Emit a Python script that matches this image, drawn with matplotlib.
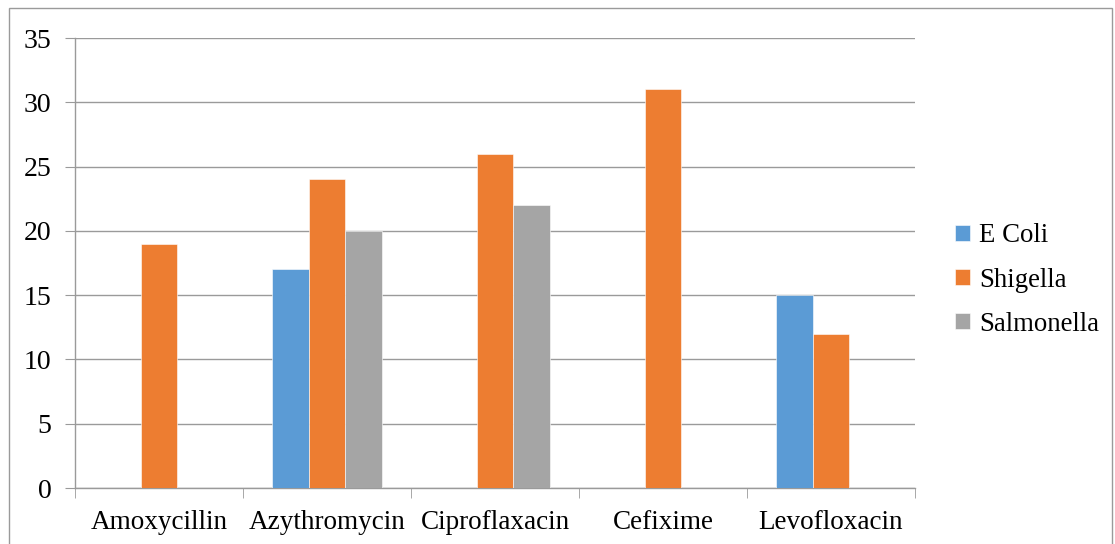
import numpy as np
import matplotlib
matplotlib.use("Agg")
import matplotlib.pyplot as plt
from matplotlib.patches import Rectangle

plt.rcParams['font.family'] = ['Liberation Serif', 'DejaVu Serif']

drugs = ["Amoxycillin", "Azythromycin", "Ciproflaxacin", "Cefixime", "Levofloxacin"]
e_coli = [0, 17, 0, 0, 15]
shigella = [19, 24, 26, 31, 12]
salmonella = [0, 20, 22, 0, 0]

series = [("E Coli", e_coli, "#5B9BD5"),
          ("Shigella", shigella, "#ED7D31"),
          ("Salmonella", salmonella, "#A5A5A5")]

fig = plt.figure(figsize=(11.15, 5.44), dpi=100)
ax = fig.add_axes([75 / 1115, 56 / 544, 840 / 1115, 450 / 544])

x = np.arange(len(drugs))
w = 0.22
for i, (name, vals, col) in enumerate(series):
    ax.bar(x + (i - 1) * w, vals, w, color=col, label=name,
           edgecolor="white", linewidth=0.4, zorder=3)

ax.set_xlim(-0.5, len(drugs) - 0.5)
ax.set_ylim(0, 35)
ax.set_yticks(range(0, 36, 5))
ax.set_xticks(x)
ax.set_xticklabels(drugs)
ax.set_xticks(np.arange(-0.5, len(drugs), 1), minor=True)

ax.grid(axis="y", color="#9a9a9a", linewidth=1, zorder=0)
for s in ["top", "right"]:
    ax.spines[s].set_visible(False)
for s in ["left", "bottom"]:
    ax.spines[s].set_color("#9a9a9a")
    ax.spines[s].set_linewidth(1)

ax.tick_params(axis="y", length=7, color="#9a9a9a", labelsize=20, pad=10)
ax.tick_params(axis="x", which="major", length=0, labelsize=19.5, pad=16)
ax.tick_params(axis="x", which="minor", length=7, color="#9a9a9a")

ax.legend(loc="center left", bbox_to_anchor=(1.035, 0.462), frameon=False,
          fontsize=19.3, handlelength=0.55, handleheight=0.55, handletextpad=0.35,
          labelspacing=0.72, borderaxespad=0.0)

fig.patches.append(Rectangle((9 / 1115, -0.01), 1103 / 1115, (536 / 544) + 0.01,
                             transform=fig.transFigure, fill=False,
                             edgecolor="#9a9a9a", linewidth=1))

fig.savefig("out.png", dpi=100)
